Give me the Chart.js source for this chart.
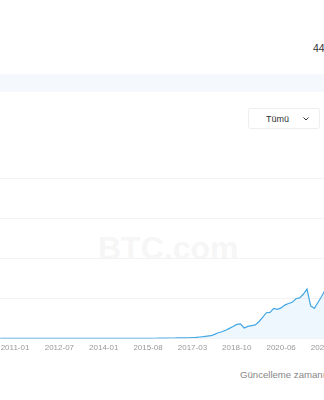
<!DOCTYPE html>
<html>
<head>
<meta charset="utf-8">
<script src="https://cdn.jsdelivr.net/npm/chart.js@4/dist/chart.umd.min.js"></script>
<style>
html,body{margin:0;padding:0;background:#fff;overflow:hidden;}
body{width:324px;height:400px;position:relative;font-family:"Liberation Sans",Arial,Helvetica,sans-serif;}
#num{position:absolute;left:313px;top:42px;font-size:10.5px;color:#333;white-space:nowrap;}
#band{position:absolute;left:0;top:74px;width:324px;height:18px;background:#f5f8fd;}
#btn{position:absolute;left:248px;top:108px;width:72px;height:21px;border:1px solid #eeeeee;border-radius:3px;box-sizing:border-box;font-size:9px;color:#333;}
#btn span{position:absolute;left:17px;top:5px;}
#btn svg{position:absolute;left:54px;top:8px;}
#wm{position:absolute;left:98px;top:230px;font-size:32px;font-weight:bold;color:#f6f6f6;white-space:nowrap;pointer-events:none;}
#wrap{position:absolute;left:-4px;top:168px;width:349px;height:190px;}
#upd{position:absolute;left:240px;top:369px;font-size:9.6px;color:#888;white-space:nowrap;}
</style>
</head>
<body>
<div id="num">44</div>
<div id="band"></div>
<div id="btn"><span>Tümü</span><svg width="6" height="4" viewBox="0 0 6 4"><path d="M0.5 0.5 L3 3 L5.5 0.5" fill="none" stroke="#333" stroke-width="1"/></svg></div>
<div id="wm">BTC.com</div>
<div id="wrap"><canvas id="c" width="349" height="190" style="width:349px;height:190px"></canvas></div>
<div id="upd">Güncelleme zamanı</div>
<script>
// Category dates (one per difficulty sample)
const dates = [
 "2010-07","2010-08","2010-10","2010-11",
 "2011-01","2011-02","2011-04","2011-05","2011-07","2011-08","2011-10","2011-11","2012-01","2012-02","2012-04","2012-05",
 "2012-07","2012-08","2012-10","2012-11","2013-01","2013-02","2013-04","2013-05","2013-07","2013-08","2013-10","2013-11",
 "2014-01","2014-02","2014-04","2014-05","2014-07","2014-08","2014-10","2014-11","2015-01","2015-02","2015-04","2015-06",
 "2015-08","2015-09","2015-11","2015-12","2016-02","2016-03","2016-05","2016-06","2016-08","2016-09","2016-11","2017-01",
 "2017-03","2017-04","2017-06","2017-07","2017-09","2017-10","2017-12","2018-01","2018-03","2018-04","2018-06","2018-08",
 "2018-10","2018-11","2019-01","2019-02","2019-04","2019-05","2019-07","2019-09","2019-10","2019-12","2020-02","2020-04",
 "2020-06","2020-07","2020-09","2020-10","2020-12","2021-01","2021-03","2021-05","2021-06","2021-07","2021-09","2021-11",
 "2022-01","2022-02","2022-04","2022-05"
];
// Difficulty in T (trillions)
const difficulty = [
 0.000,0.000,0.000,0.000,
 0.000,0.000,0.000,0.000,0.000,0.000,0.000,0.000,0.000,0.000,0.000,0.000,
 0.000,0.000,0.000,0.000,0.000,0.000,0.000,0.000,0.000,0.000,0.001,0.001,
 0.002,0.003,0.005,0.008,0.013,0.019,0.027,0.035,0.041,0.044,0.047,0.050,
 0.052,0.059,0.072,0.10,0.14,0.16,0.19,0.21,0.22,0.25,0.28,0.32,
 0.46,0.50,0.71,0.86,1.1,1.35,2.0,2.8,3.3,4.1,5.0,5.9,
 7.0,7.2,5.2,6.0,6.4,6.7,8.3,10.5,12.8,13.0,15.0,14.5,
 15.2,16.6,17.4,18.0,19.8,20.2,22.0,24.6,16.2,15.0,18.0,21.0,
 24.5,26.5,27.5,28.0
];
// Axis settings
const yTicks = [0,20,40,60,80];
const labelStart = 4, labelEvery = 12;

new Chart(document.getElementById('c'), {
  type: 'line',
  data: {
    labels: dates,
    datasets: [{
      data: difficulty,
      borderColor: '#42a7e6',
      borderWidth: 1.2,
      backgroundColor: 'rgba(66,167,230,0.09)',
      fill: 'origin',
      pointRadius: 0,
      tension: 0
    }]
  },
  options: {
    responsive: false,
    animation: false,
    layout: { padding: { top: 10, left: 0, right: 0, bottom: 0 } },
    plugins: { legend: { display: false }, tooltip: { enabled: false } },
    scales: {
      x: {
        offset: false,
        grid: { display: false, drawTicks: false },
        border: { display: false },
        ticks: {
          autoSkip: false, maxRotation: 0, minRotation: 0, padding: 5,
          color: '#999', font: { size: 8, family: 'Liberation Sans' },
          callback: (v, i) => (i >= labelStart && (i - labelStart) % labelEvery === 0) ? dates[i] : null
        }
      },
      y: {
        min: yTicks[0], max: yTicks[yTicks.length - 1],
        afterBuildTicks: s => { s.ticks = yTicks.map(v => ({ value: v })); },
        ticks: { display: false },
        grid: { color: '#f3f3f3', drawTicks: false },
        border: { display: false }
      }
    }
  }
});
</script>
</body>
</html>
